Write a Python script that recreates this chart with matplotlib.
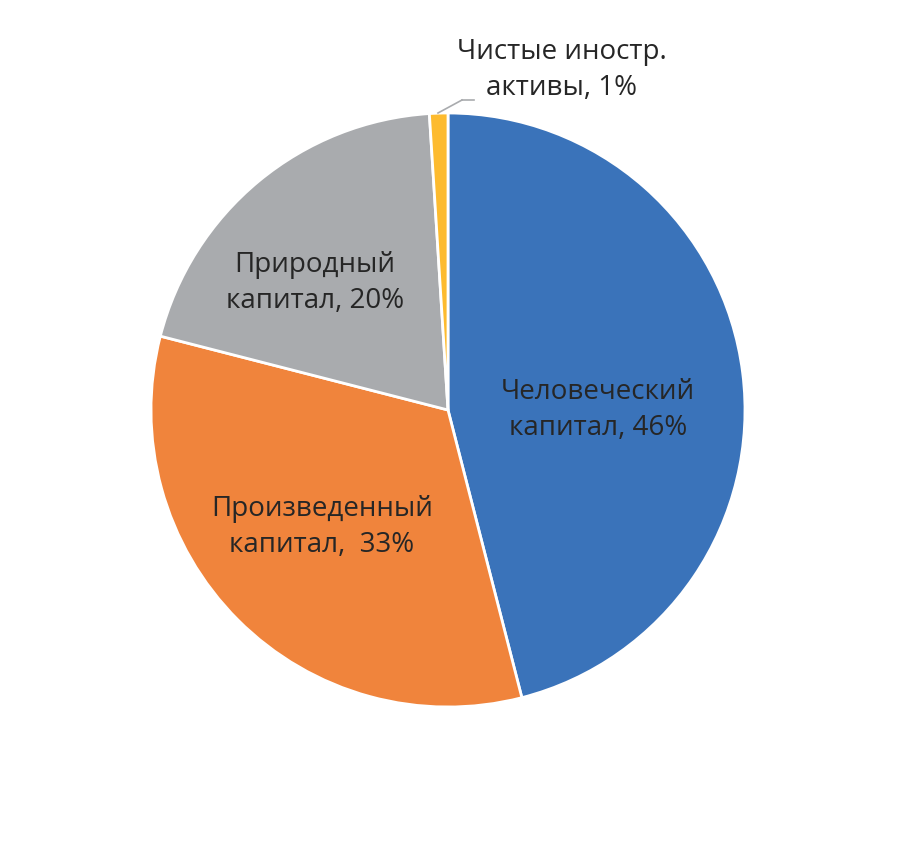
import matplotlib.pyplot as plt

labels = ["Человеческий\nкапитал, 46%", "Произведенный\nкапитал,  33%",
          "Природный\nкапитал, 20%", "Чистые иностр.\nактивы, 1%"]
shares = [46, 33, 20, 1]
colors = ["#3A73BA", "#F0843C", "#A9ABAE", "#FDBB2F"]

fig = plt.figure(figsize=(9.15, 8.49), dpi=100)
ax = fig.add_axes([0, 0, 1, 1])

cx, cy, r = 448, 410, 297
# y axis is inverted below, so counterclock in data = clockwise on screen
wedges, _ = ax.pie(shares, colors=colors, startangle=-90, counterclock=True,
                   center=(cx, cy), radius=r, frame=True,
                   wedgeprops=dict(edgecolor="white", linewidth=2))
ax.set_xlim(0, 915)
ax.set_ylim(849, 0)
ax.set_aspect("equal")
ax.axis("off")

font = dict(family=["Open Sans", "DejaVu Sans"], fontsize=20, color="#262626",
            ha="center", va="center", linespacing=1.35)
ax.text(598, 410, labels[0], **font)
ax.text(322, 527, labels[1], **font)
ax.text(315, 283, labels[2], **font)
ax.text(562, 70, labels[3], **font)
ax.plot([438, 462], [113, 100], color="#A9ABAE", lw=1.2)
ax.plot([462, 474], [100, 100], color="#A9ABAE", lw=1.2)

fig.savefig("out.png", dpi=100, facecolor="white")
